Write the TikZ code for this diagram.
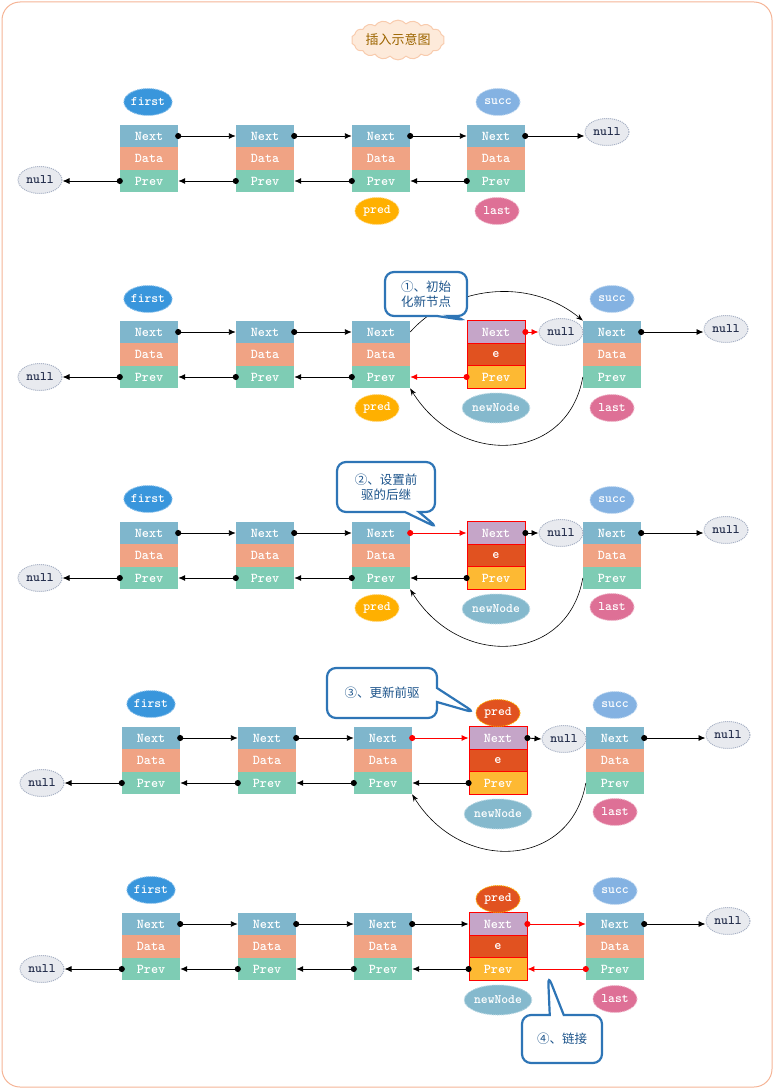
\documentclass[tikz,border=0pt]{standalone}
\usepackage{fontspec}
\newfontfamily\cjk{Noto Sans CJK SC}
\usetikzlibrary{arrows.meta,shapes.geometric,shapes.symbols,shapes.callouts}

\definecolor{nextc}{RGB}{127,182,204}
\definecolor{datac}{RGB}{240,163,132}
\definecolor{prevc}{RGB}{126,204,180}
\definecolor{newnextc}{RGB}{197,165,200}
\definecolor{newec}{RGB}{225,82,32}
\definecolor{newprevc}{RGB}{253,185,51}
\definecolor{firstc}{RGB}{57,150,220}
\definecolor{succc}{RGB}{132,178,226}
\definecolor{predc}{RGB}{255,176,0}
\definecolor{lastc}{RGB}{222,112,150}
\definecolor{newtagc}{RGB}{133,185,205}
\definecolor{nullc}{RGB}{232,234,239}
\definecolor{nullb}{RGB}{165,175,195}
\definecolor{nulltext}{RGB}{35,45,75}
\definecolor{framec}{RGB}{245,180,150}
\definecolor{titlefill}{RGB}{253,234,218}
\definecolor{titledraw}{RGB}{248,203,173}
\definecolor{titletext}{RGB}{156,101,0}
\definecolor{notec}{RGB}{46,117,182}
\definecolor{notetext}{RGB}{30,85,140}

\tikzset{
  cell/.style={rectangle, minimum width=58pt, minimum height=22.5pt, inner sep=0pt,
    text=white, font=\fontsize{13.5}{13.5}\ttfamily\bfseries},
  nextcell/.style={cell, fill=nextc},
  datacell/.style={cell, fill=datac},
  prevcell/.style={cell, fill=prevc},
  newnext/.style={cell, fill=newnextc, draw=red, line width=0.8pt},
  newe/.style={cell, fill=newec, draw=red, line width=0.8pt},
  newprev/.style={cell, fill=newprevc, draw=red, line width=0.8pt},
  tag/.style={ellipse, inner sep=0pt, minimum width=44pt, minimum height=27pt,
    text=white, font=\fontsize{13}{13}\ttfamily\bfseries, line width=1pt, dash pattern=on 1pt off 1pt},
  firsttag/.style={tag, fill=firstc, draw=firstc!55!white},
  succtag/.style={tag, fill=succc, draw=succc!55!white},
  predtag/.style={tag, fill=predc, draw=predc!55!white},
  lasttag/.style={tag, fill=lastc, draw=lastc!55!white},
  newtag/.style={tag, fill=newtagc, draw=newtagc!55!white, minimum width=58pt, minimum height=30pt},
  redpred/.style={tag, fill=newec, draw=predc},
  nulltag/.style={tag, fill=nullc, draw=nullb, text=nulltext},
  link/.style={{Circle[length=6pt]}-{Latex[length=7pt,width=6pt]}, shorten <=-3pt, line width=0.9pt},
  redlink/.style={link, red},
  arc/.style={-{Stealth[length=7pt,width=5pt]}, line width=0.6pt},
  note/.style={rectangle callout, rounded corners=9pt, draw=notec, line width=2.2pt, fill=white,
    text=notetext, font=\cjk\fontsize{12.5}{15.5}\selectfont, align=center, callout pointer width=14pt}
}

\newcommand\lnode[3]{%
  \node[nextcell] (#1n) at (#2,#3) {Next};
  \node[datacell] (#1d) at (#2,#3+22.5) {Data};
  \node[prevcell] (#1p) at (#2,#3+45) {Prev};
}
\newcommand\nnode[3]{%
  \node[newnext] (#1n) at (#2,#3) {Next};
  \node[newe] (#1d) at (#2,#3+22.5) {e};
  \node[newprev] (#1p) at (#2,#3+45) {Prev};
}

\begin{document}
\begin{tikzpicture}[x=1pt,y=-1pt]
  \useasboundingbox (0,0) rectangle (774,1089);
  \draw[framec, line width=1pt, rounded corners=18pt] (2,2) rectangle (772,1087);
  \node[cloud, cloud puffs=18, cloud puff arc=100, aspect=2.8, fill=titlefill, draw=titledraw, line width=1pt,
    inner sep=0pt, minimum width=90pt, minimum height=34pt, text=titletext,
    font=\cjk\fontsize{13}{13}\selectfont] (title) at (398,40) {插入示意图};

  % row 1
  \lnode{a1}{149}{136} \lnode{a2}{265}{136} \lnode{a3}{381}{136} \lnode{a4}{496}{136}
  \node[firsttag] (afirst) at (148,102) {first};
  \node[succtag] (asucc) at (498,102) {succ};
  \node[predtag] (apred) at (377,211) {pred};
  \node[lasttag] (alast) at (497,211) {last};
  \node[nulltag] (anl) at (40,180) {null};
  \node[nulltag] (anr) at (607,132) {null};
  \draw[link] (a1n.east) -- (a2n.west);
  \draw[link] (a2n.east) -- (a3n.west);
  \draw[link] (a3n.east) -- (a4n.west);
  \draw[link] (a4n.east) -- (a4n.east -| anr.west);
  \draw[link] (a1p.west) -- (a1p.west -| anl.east);
  \draw[link] (a2p.west) -- (a1p.east);
  \draw[link] (a3p.west) -- (a2p.east);
  \draw[link] (a4p.west) -- (a3p.east);

  % row 2
  \lnode{b1}{149}{332} \lnode{b2}{265}{332} \lnode{b3}{381}{332} \nnode{b4}{496}{332} \lnode{b5}{612}{332}
  \node[firsttag] (bfirst) at (148,299) {first};
  \node[succtag] (bsucc) at (612,299) {succ};
  \node[predtag] (bpred) at (377,408) {pred};
  \node[newtag] (bnew) at (496,408) {newNode};
  \node[lasttag] (blast) at (612,408) {last};
  \node[nulltag] (bnl) at (40,377) {null};
  \node[nulltag] (bnm) at (561,332) {null};
  \node[nulltag] (bnr) at (726,329) {null};
  \draw[link] (b1n.east) -- (b2n.west);
  \draw[link] (b2n.east) -- (b3n.west);
  \draw[link] (b5n.east) -- (b5n.east -| bnr.west);
  \draw[link] (b1p.west) -- (b1p.west -| bnl.east);
  \draw[link] (b2p.west) -- (b1p.east);
  \draw[link] (b3p.west) -- (b2p.east);
  \draw[redlink] (b4n.east) -- (bnm.west);
  \draw[redlink] (b4p.west) -- (b3p.east);
  \draw[arc] (b3n.east) .. controls +(40,-45) and +(-55,-45) .. (b5n.north west);
  \draw[arc] (b5p.west) .. controls +(-15,85) and +(50,80) .. (b3p.south east);
  \node[note, minimum width=82pt, minimum height=44pt,
    callout absolute pointer={(b4n.north west)}] (bnote) at (426,294) {①、初始\\化新节点};

  % row 3
  \lnode{c1}{149}{533} \lnode{c2}{265}{533} \lnode{c3}{381}{533} \nnode{c4}{496}{533} \lnode{c5}{612}{533}
  \node[firsttag] (cfirst) at (148,499) {first};
  \node[succtag] (csucc) at (612,500) {succ};
  \node[predtag] (cpred) at (377,608) {pred};
  \node[newtag] (cnew) at (496,609) {newNode};
  \node[lasttag] (clast) at (612,607) {last};
  \node[nulltag] (cnl) at (40,578) {null};
  \node[nulltag] (cnm) at (561,533) {null};
  \node[nulltag] (cnr) at (726,530) {null};
  \coordinate (ctip) at (438,528);
  \draw[link] (c1n.east) -- (c2n.west);
  \draw[link] (c2n.east) -- (c3n.west);
  \draw[redlink] (c3n.east) -- (c4n.west);
  \draw[link] (c4n.east) -- (cnm.west);
  \draw[link] (c5n.east) -- (c5n.east -| cnr.west);
  \draw[link] (c1p.west) -- (c1p.west -| cnl.east);
  \draw[link] (c2p.west) -- (c1p.east);
  \draw[link] (c3p.west) -- (c2p.east);
  \draw[link] (c4p.west) -- (c3p.east);
  \draw[arc] (c5p.west) .. controls +(-15,85) and +(50,80) .. (c3p.south east);
  \node[note, minimum width=98pt, minimum height=50pt,
    callout absolute pointer={(ctip)}] (cnote) at (386,487) {②、设置前\\驱的后继};

  % row 4
  \lnode{d1}{151}{738} \lnode{d2}{267}{738} \lnode{d3}{383}{738} \nnode{d4}{498}{738} \lnode{d5}{615}{738}
  \node[firsttag] (dfirst) at (151,704) {first};
  \node[succtag] (dsucc) at (615,705) {succ};
  \node[redpred] (dpred) at (498,713) {pred};
  \node[newtag] (dnew) at (498,814) {newNode};
  \node[lasttag] (dlast) at (615,812) {last};
  \node[nulltag] (dnl) at (42,783) {null};
  \node[nulltag] (dnm) at (564,739) {null};
  \node[nulltag] (dnr) at (728,735) {null};
  \draw[link] (d1n.east) -- (d2n.west);
  \draw[link] (d2n.east) -- (d3n.west);
  \draw[redlink] (d3n.east) -- (d4n.west);
  \draw[link] (d4n.east) -- (dnm.west);
  \draw[link] (d5n.east) -- (d5n.east -| dnr.west);
  \draw[link] (d1p.west) -- (d1p.west -| dnl.east);
  \draw[link] (d2p.west) -- (d1p.east);
  \draw[link] (d3p.west) -- (d2p.east);
  \draw[link] (d4p.west) -- (d3p.east);
  \draw[arc] (d5p.west) .. controls +(-15,85) and +(50,80) .. (d3p.south east);
  \node[note, minimum width=110pt, minimum height=50pt,
    callout absolute pointer={(dpred.west)}] (dnote) at (382,693) {③、更新前驱};

  % row 5
  \lnode{e1}{151}{924} \lnode{e2}{267}{924} \lnode{e3}{383}{924} \nnode{e4}{498}{924} \lnode{e5}{615}{924}
  \node[firsttag] (efirst) at (151,890) {first};
  \node[succtag] (esucc) at (615,891) {succ};
  \node[redpred] (epred) at (498,899) {pred};
  \node[newtag] (enew) at (498,1000) {newNode};
  \node[lasttag] (elast) at (615,999) {last};
  \node[nulltag] (enl) at (42,969) {null};
  \node[nulltag] (enr) at (728,921) {null};
  \coordinate (etip) at (548,975);
  \draw[link] (e1n.east) -- (e2n.west);
  \draw[link] (e2n.east) -- (e3n.west);
  \draw[link] (e3n.east) -- (e4n.west);
  \draw[redlink] (e4n.east) -- (e5n.west);
  \draw[link] (e5n.east) -- (e5n.east -| enr.west);
  \draw[link] (e1p.west) -- (e1p.west -| enl.east);
  \draw[link] (e2p.west) -- (e1p.east);
  \draw[link] (e3p.west) -- (e2p.east);
  \draw[link] (e4p.west) -- (e3p.east);
  \draw[redlink] (e5p.west) -- (e4p.east);
  \node[note, minimum width=80pt, minimum height=48pt,
    callout absolute pointer={(etip)}] (enote) at (562,1039) {④、链接};
\end{tikzpicture}
\end{document}
